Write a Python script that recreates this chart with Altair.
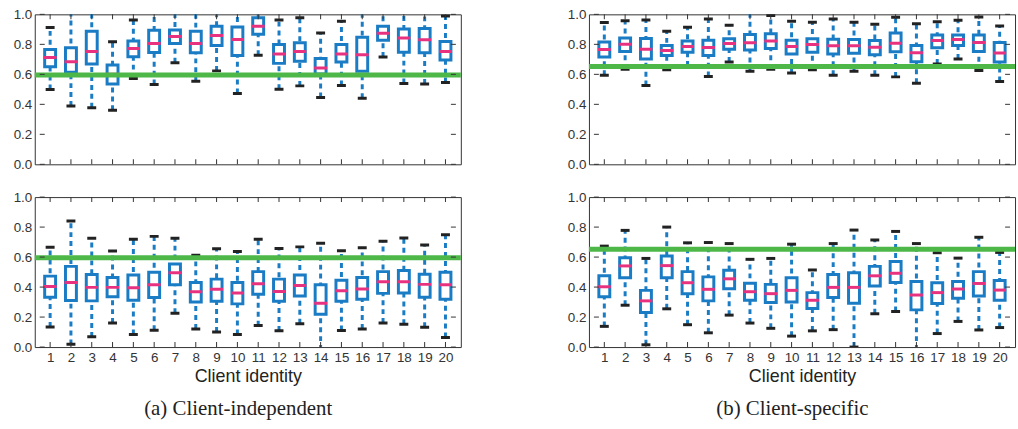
import altair as alt
import pandas as pd

clients = list(range(1, 21))
y_ticks = [0.0, 0.2, 0.4, 0.6, 0.8, 1.0]

# (a) Client-independent, top row
a_top_low = [0.499, 0.389, 0.377, 0.360, 0.572, 0.532, 0.678, 0.554, 0.623, 0.472,
             0.728, 0.501, 0.523, 0.446, 0.525, 0.441, 0.715, 0.539, 0.536, 0.545]
a_top_q1 = [0.651, 0.614, 0.669, 0.536, 0.717, 0.746, 0.806, 0.744, 0.792, 0.725,
            0.868, 0.673, 0.687, 0.603, 0.682, 0.620, 0.828, 0.748, 0.744, 0.695]
a_top_med = [0.713, 0.684, 0.753, 0.600, 0.773, 0.806, 0.852, 0.806, 0.859, 0.832,
             0.920, 0.735, 0.753, 0.642, 0.735, 0.731, 0.874, 0.843, 0.830, 0.753]
a_top_q3 = [0.766, 0.777, 0.887, 0.662, 0.823, 0.894, 0.896, 0.887, 0.920, 0.915,
            0.978, 0.799, 0.810, 0.706, 0.799, 0.848, 0.920, 0.903, 0.905, 0.819]
a_top_high = [0.912, 1.02, 1.02, 0.817, 0.962, 1.02, 1.02, 1.02, 1.02, 1.02,
              1.02, 0.962, 0.978, 0.876, 0.954, 1.02, 1.02, 1.02, 1.02, 0.989]

# (a) Client-independent, bottom row
a_bot_low = [0.134, 0.018, 0.068, 0.160, 0.084, 0.112, 0.226, 0.121, 0.101, 0.084,
             0.143, 0.108, 0.156, -0.02, 0.110, 0.121, 0.160, 0.152, 0.132, 0.064]
a_bot_q1 = [0.332, 0.310, 0.308, 0.336, 0.312, 0.330, 0.415, 0.301, 0.305, 0.288,
            0.352, 0.305, 0.341, 0.218, 0.305, 0.319, 0.358, 0.360, 0.332, 0.319]
a_bot_med = [0.404, 0.431, 0.398, 0.398, 0.396, 0.415, 0.495, 0.369, 0.385, 0.360,
             0.422, 0.371, 0.411, 0.292, 0.376, 0.387, 0.435, 0.435, 0.418, 0.415]
a_bot_q3 = [0.473, 0.538, 0.484, 0.464, 0.481, 0.499, 0.554, 0.431, 0.453, 0.431,
            0.503, 0.453, 0.481, 0.415, 0.446, 0.464, 0.503, 0.510, 0.486, 0.499]
a_bot_high = [0.666, 0.840, 0.725, 0.640, 0.719, 0.738, 0.725, 0.613, 0.655, 0.637,
              0.719, 0.657, 0.668, 0.692, 0.642, 0.662, 0.705, 0.727, 0.681, 0.749]

# (b) Client-specific, top row
b_top_low = [0.594, 0.634, 0.525, 0.631, 0.655, 0.585, 0.682, 0.620, 0.634, 0.609,
             0.631, 0.594, 0.620, 0.594, 0.583, 0.541, 0.669, 0.702, 0.625, 0.552]
b_top_q1 = [0.715, 0.753, 0.702, 0.726, 0.748, 0.726, 0.768, 0.762, 0.773, 0.735,
            0.748, 0.735, 0.740, 0.731, 0.751, 0.684, 0.777, 0.792, 0.753, 0.682]
b_top_med = [0.766, 0.801, 0.768, 0.759, 0.786, 0.779, 0.806, 0.810, 0.823, 0.786,
             0.799, 0.790, 0.790, 0.781, 0.808, 0.744, 0.826, 0.832, 0.812, 0.742]
b_top_q3 = [0.815, 0.843, 0.839, 0.792, 0.823, 0.828, 0.837, 0.865, 0.870, 0.828,
            0.837, 0.834, 0.832, 0.826, 0.876, 0.792, 0.863, 0.863, 0.863, 0.812]
b_top_high = [0.945, 0.958, 0.962, 0.887, 0.914, 0.969, 0.927, 1.02, 0.993, 0.954,
              0.947, 0.969, 0.947, 0.934, 0.980, 0.938, 0.951, 0.960, 0.982, 0.923]

# (b) Client-specific, bottom row
b_bot_low = [0.138, 0.279, 0.015, 0.255, 0.149, 0.095, 0.213, 0.160, 0.125, 0.073,
             0.108, 0.116, 0.000, 0.222, 0.237, -0.02, 0.090, 0.171, 0.114, 0.130]
b_bot_q1 = [0.336, 0.462, 0.231, 0.462, 0.356, 0.308, 0.389, 0.312, 0.297, 0.301,
            0.257, 0.330, 0.292, 0.407, 0.431, 0.248, 0.290, 0.325, 0.341, 0.312]
b_bot_med = [0.402, 0.541, 0.308, 0.543, 0.429, 0.385, 0.455, 0.369, 0.356, 0.378,
             0.312, 0.398, 0.398, 0.475, 0.492, 0.347, 0.363, 0.387, 0.424, 0.380]
b_bot_q3 = [0.475, 0.596, 0.378, 0.607, 0.503, 0.468, 0.512, 0.426, 0.418, 0.462,
            0.363, 0.484, 0.495, 0.538, 0.571, 0.437, 0.429, 0.437, 0.503, 0.444]
b_bot_high = [0.673, 0.778, 0.591, 0.800, 0.695, 0.697, 0.690, 0.585, 0.591, 0.686,
              0.514, 0.690, 0.780, 0.714, 0.771, 0.690, 0.629, 0.593, 0.732, 0.631]

threshold_a = 0.595
threshold_b = 0.652

BLUE = "#1a7cc4"
PINK = "#e8327f"
GREEN = "#4db848"
CAP = "#222222"
FRAME = "#333333"

W, H = 429, 151

xs = alt.Scale(domain=[0.5, 20.5], nice=False, zero=False)
ys = alt.Scale(domain=[0, 1], nice=False, zero=False)


def panel(low, q1, med, q3, high, thr, bottom):
    df = pd.DataFrame({"client": clients, "low": low, "q1": q1, "med": med,
                       "q3": q3, "high": high})
    if bottom:
        xaxis = alt.Axis(values=clients, format="d", labelPadding=4,
                         labelOverlap=False, titlePadding=3)
    else:
        xaxis = None
    yaxis = alt.Axis(values=y_ticks, format=".1f", labelPadding=3, labelOverlap=False)

    def X(f):
        return alt.X(f, scale=xs, axis=xaxis, title="Client identity" if bottom else None)

    def Y(f):
        return alt.Y(f, scale=ys, axis=yaxis, title=None)

    base = alt.Chart(df)
    whisker = base.mark_rule(color=BLUE, strokeWidth=3, strokeDash=[5, 4],
                             clip=True).encode(x=X("client:Q"), y=Y("low:Q"), y2="high:Q")
    box = base.mark_bar(size=11, fill="white", stroke=BLUE, strokeWidth=3,
                        opacity=1, clip=True).encode(x=X("client:Q"), y=Y("q1:Q"), y2="q3:Q")
    median = base.mark_tick(orient="horizontal", size=13, thickness=3, color=PINK,
                            opacity=1, clip=True).encode(x=X("client:Q"), y=Y("med:Q"))
    cap_lo = base.mark_tick(orient="horizontal", size=9, thickness=3, color=CAP,
                            opacity=1, clip=True).encode(x=X("client:Q"), y=Y("low:Q"))
    cap_hi = base.mark_tick(orient="horizontal", size=9, thickness=3, color=CAP,
                            opacity=1, clip=True).encode(x=X("client:Q"), y=Y("high:Q"))
    green = alt.Chart(pd.DataFrame({"thr": [thr]})).mark_rule(
        color=GREEN, strokeWidth=5).encode(y=Y("thr:Q"))

    xt = alt.Chart(pd.DataFrame({"client": clients, "y0": 0.0, "y1": 1.0}))
    yt = alt.Chart(pd.DataFrame({"v": y_ticks, "x0": 0.5, "x1": 20.5}))
    t_bot = xt.mark_tick(orient="vertical", size=5, thickness=1, color=FRAME, opacity=1,
                         yOffset=-2.5).encode(x=X("client:Q"), y=Y("y0:Q"))
    t_top = xt.mark_tick(orient="vertical", size=5, thickness=1, color=FRAME, opacity=1,
                         yOffset=2.5).encode(x=X("client:Q"), y=Y("y1:Q"))
    t_left = yt.mark_tick(orient="horizontal", size=5, thickness=1, color=FRAME, opacity=1,
                          xOffset=2.5).encode(y=Y("v:Q"), x=X("x0:Q"))
    t_right = yt.mark_tick(orient="horizontal", size=5, thickness=1, color=FRAME, opacity=1,
                           xOffset=-2.5).encode(y=Y("v:Q"), x=X("x1:Q"))

    return alt.layer(whisker, box, median, cap_lo, cap_hi, green,
                     t_bot, t_top, t_left, t_right).properties(width=W, height=H)


def column(top, bot, caption):
    return alt.vconcat(top, bot, spacing=18, title=alt.TitleParams(
        caption, orient="bottom", anchor="middle", font="Liberation Serif",
        fontSize=21, fontWeight="normal", color="#222", offset=12))


col_a = column(
    panel(a_top_low, a_top_q1, a_top_med, a_top_q3, a_top_high, threshold_a, False),
    panel(a_bot_low, a_bot_q1, a_bot_med, a_bot_q3, a_bot_high, threshold_a, True),
    "(a) Client-independent")
col_b = column(
    panel(b_top_low, b_top_q1, b_top_med, b_top_q3, b_top_high, threshold_b, False),
    panel(b_bot_low, b_bot_q1, b_bot_med, b_bot_q3, b_bot_high, threshold_b, True),
    "(b) Client-specific")

chart = alt.hconcat(col_a, col_b, spacing=103).properties(
    padding={"left": 12, "top": 5, "right": 0, "bottom": 0},
    background="white"
).configure_view(stroke=FRAME, strokeWidth=1).configure_axis(
    grid=False, domain=False, ticks=False, labelOverlap=False,
    labelFont="Liberation Sans", labelFontSize=13.5, labelColor="#333",
    titleFont="Liberation Sans", titleFontSize=18, titleFontWeight="normal",
    titleColor="#222"
)

chart.save("out.html", embed_options={"renderer": "svg", "actions": False})
